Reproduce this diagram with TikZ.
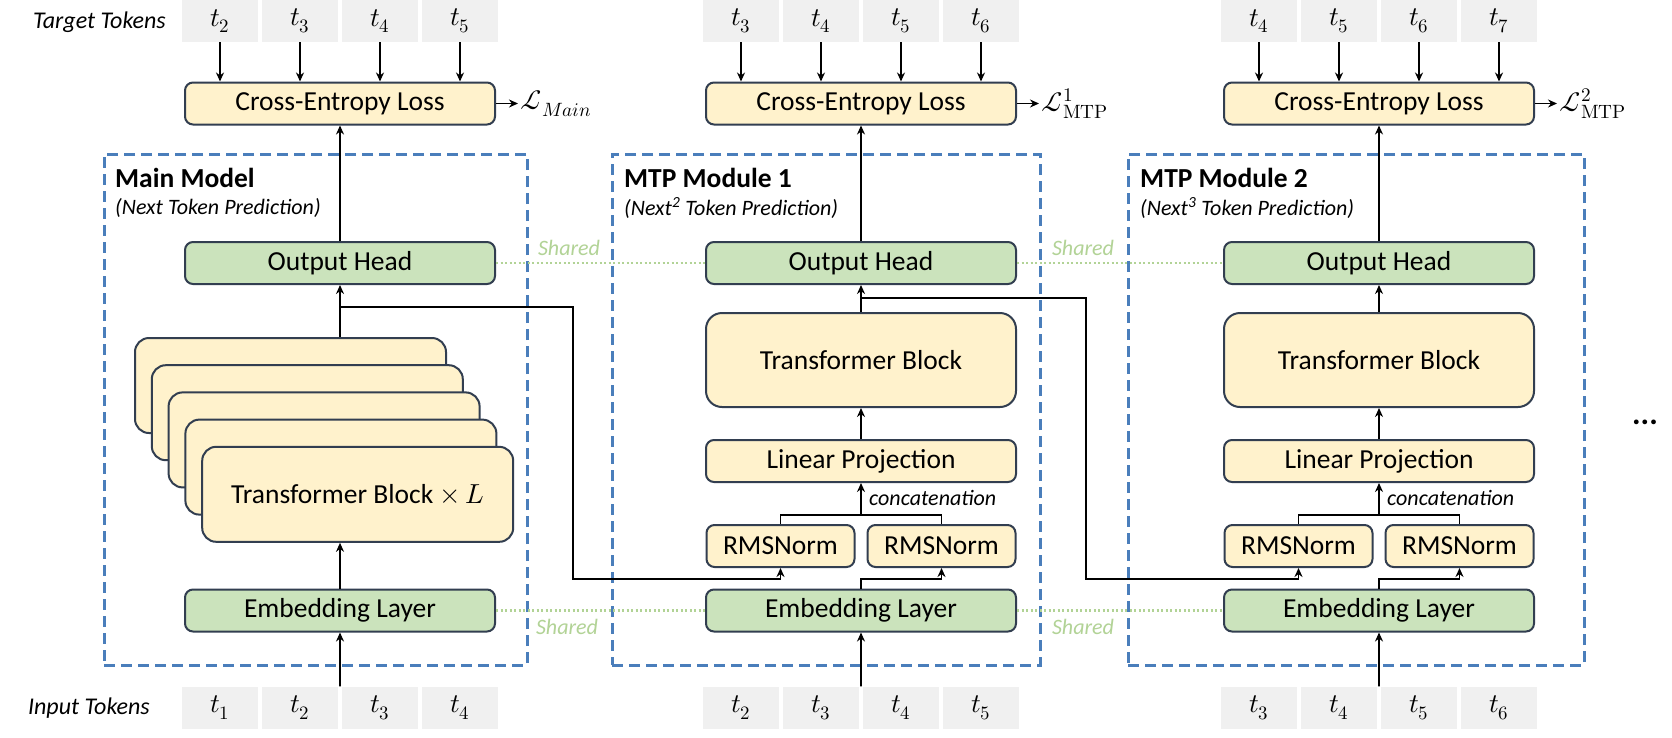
\documentclass[tikz,border=0pt]{standalone}
\usepackage{fontspec}
\usepackage{unicode-math}
\setmainfont{Carlito}
\setmathfont{Latin Modern Math}
\usetikzlibrary{arrows.meta,calc}
\definecolor{edgec}{RGB}{50,62,80}
\definecolor{yelfill}{RGB}{255,242,204}
\definecolor{grnfill}{RGB}{203,227,188}
\definecolor{tokfill}{RGB}{240,240,240}
\definecolor{dashblue}{RGB}{74,126,187}
\definecolor{sharegrn}{RGB}{178,211,150}
\newcommand\szmain{\fontsize{27.5pt}{33pt}\selectfont}
\newcommand\szsmall{\fontsize{22pt}{26pt}\selectfont}
\newcommand\sztok{\fontsize{27pt}{31pt}\selectfont}
\tikzset{
  blk/.style={draw=edgec, line width=2pt, rounded corners=8pt, fill=yelfill,
    minimum width=310pt, minimum height=42pt, inner sep=0pt, font=\szmain},
  grnblk/.style={blk, fill=grnfill},
  tok/.style={fill=tokfill, minimum width=76pt, minimum height=42pt, inner sep=0pt, font=\sztok},
  arr/.style={-{Stealth[length=9pt,width=8pt]}, line width=1.8pt, draw=black},
  conn/.style={line width=1.8pt, draw=black},
  module/.style={draw=dashblue, line width=3pt, dash pattern=on 11pt off 6pt, inner sep=0pt},
  share/.style={draw=sharegrn, line width=2.5pt, dash pattern=on 2pt off 2.5pt},
  sharetxt/.style={text=sharegrn, font=\szsmall\itshape, inner sep=0pt},
  title/.style={anchor=west, font=\szmain\bfseries, inner sep=0pt},
  subtitle/.style={anchor=west, font=\szsmall\itshape, inner sep=0pt},
  lossl/.style={anchor=west, font=\szmain, inner sep=2pt},
}
\begin{document}
\begin{tikzpicture}[x=1pt,y=-1pt]
\fill[white] (0,0) rectangle (1672,737);
\useasboundingbox (0,0) rectangle (1672,737);

% module frames
\node[module, minimum width=423pt, minimum height=511pt] (mod1) at (315.5,409.5) {};
\node[module, minimum width=428pt, minimum height=511pt] (mod2) at (826,409.5) {};
\node[module, minimum width=456pt, minimum height=511pt] (mod3) at (1356,409.5) {};

\node[title] (tt1) at (115,178) {Main Model};
\node[subtitle] (st1) at (115,208) {(Next Token Prediction)};
\node[title] (tt2) at (624,178) {MTP Module 1};
\node[subtitle] (st2) at (624,208) {(Next\textsuperscript{2} Token Prediction)};
\node[title] (tt3) at (1140,178) {MTP Module 2};
\node[subtitle] (st3) at (1140,208) {(Next\textsuperscript{3} Token Prediction)};

\node[anchor=east, font=\fontsize{24pt}{28pt}\selectfont\itshape, inner sep=0pt] (tgl) at (166,22) {Target Tokens};
\node[anchor=east, font=\fontsize{24pt}{28pt}\selectfont\itshape, inner sep=0pt] (inl) at (150,708) {Input Tokens};

\foreach \i/\cx/\s in {1/340/2, 2/861/3, 3/1379/4}{
  \foreach \k in {0,1,2,3}{
    \pgfmathtruncatemacro\ti{\s+\k}
    \pgfmathtruncatemacro\ii{\s+\k-1}
    \pgfmathsetmacro\xx{\cx-120+80*\k}
    \node[tok] (tg\i\k) at (\xx,21) {$t_{\ti}$};
    \node[tok] (in\i\k) at (\xx,707.5) {$t_{\ii}$};
  }
  \node[blk] (ce\i) at (\cx,103.5) {Cross-Entropy Loss};
  \foreach \k in {0,1,2,3}{
    \draw[arr] (tg\i\k.south) -- (tg\i\k.south |- ce\i.north);
  }
  \node[grnblk] (oh\i) at (\cx,263) {Output Head};
  \node[grnblk] (em\i) at (\cx,610.5) {Embedding Layer};
  \draw[arr] (oh\i.north) -- (ce\i.south);
  \draw[arr] ($(in\i1.north east)!0.5!(in\i2.north west)$) -- (em\i.south);
}

\draw[arr] (ce1.east) -- ++(22,0) node[lossl] (lmain) {$\mathcal{L}_{Main}$};
\draw[arr] (ce2.east) -- ++(22,0) node[lossl] (lmtp1) {$\mathcal{L}^{1}_{\symup{MTP}}$};
\draw[arr] (ce3.east) -- ++(22,0) node[lossl] (lmtp2) {$\mathcal{L}^{2}_{\symup{MTP}}$};

% main model stack
\foreach \j in {0,...,4}{
  \node[blk, minimum width=311pt, minimum height=95pt, rounded corners=14pt] (sk\j) at (290.5+16.8*\j,385.5+27.2*\j) {};
}
\node[font=\szmain] (sktxt) at (sk4) {Transformer Block $\times\, L$};
\draw[arr] (em1.north) -- (em1.north |- sk4.south);
\draw[arr] (oh1.south |- sk0.north) -- (oh1.south);

% MTP modules
\foreach \i/\cx in {2/861, 3/1379}{
  \node[blk, minimum height=94pt, rounded corners=16pt] (tb\i) at (\cx,360) {Transformer Block};
  \node[blk] (lp\i) at (\cx,461) {Linear Projection};
  \node[blk, minimum width=148pt] (rl\i) at (\cx-80.5,546) {RMSNorm};
  \node[blk, minimum width=148pt] (rr\i) at (\cx+80.5,546) {RMSNorm};
  \draw[arr] (tb\i.north) -- (oh\i.south);
  \draw[arr] (lp\i.north) -- (tb\i.south);
  \coordinate (cj\i) at (\cx,515);
  \draw[conn] (rl\i.north) |- (cj\i) -| (rr\i.north);
  \draw[arr] (cj\i) -- (lp\i.south);
  \node[anchor=west, font=\szsmall\itshape, inner sep=0pt] (cc\i) at (\cx+8,498) {concatenation};
  \coordinate (eb\i) at (\cx,579);
  \draw[arr] (em\i.north) -- (eb\i) -| (rr\i.south);
}

% cross-module feeds
\coordinate (j1) at (340,307);
\coordinate (fb1) at (573,579);
\draw[arr] (j1) -| (fb1) -| (rl2.south);
\coordinate (j2) at (861,298);
\coordinate (fb2) at (1086,579);
\draw[arr] (j2) -| (fb2) -| (rl3.south);

% shared
\draw[share] (oh1.east) -- (oh2.west);
\draw[share] (oh2.east) -- (oh3.west);
\draw[share] (em1.east) -- (em2.west);
\draw[share] (em2.east) -- (em3.west);
\node[sharetxt] (sh1) at (569,248) {Shared};
\node[sharetxt] (sh2) at (1083,248) {Shared};
\node[sharetxt] (sh3) at (567,627) {Shared};
\node[sharetxt] (sh4) at (1083,627) {Shared};

\node[font=\fontsize{32pt}{36pt}\selectfont\bfseries, inner sep=0pt] (dots) at (1645,422) {...};
\end{tikzpicture}
\end{document}
